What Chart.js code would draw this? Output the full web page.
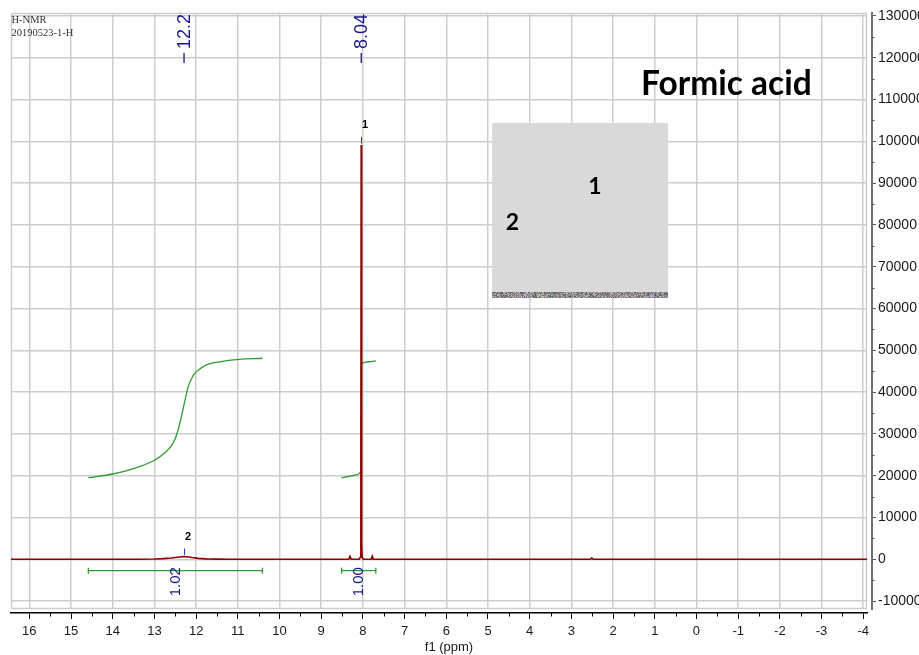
<!DOCTYPE html>
<html>
<head>
<meta charset="utf-8">
<title>H-NMR – Formic acid</title>
<script src="https://cdn.jsdelivr.net/npm/chart.js@4/dist/chart.umd.min.js"></script>
<style>
  html, body { margin: 0; padding: 0; background: #ffffff; overflow: hidden; }
  #wrap { width: 960px; height: 655px; }
</style>
</head>
<body>
<div id="wrap"><canvas id="c" width="960" height="655"></canvas></div>
<script>
// ---- spectrum (ppm, intensity) ----
const spectrumPpm = [16.44, 13.4, 13.0, 12.8, 12.6, 12.45, 12.35, 12.29, 12.22, 12.1, 11.95, 11.75, 11.5, 11.2,
  8.34, 8.31, 8.28, 8.09, 8.06, 8.048, 8.04, 8.032, 8.02, 7.99, 7.80, 7.775, 7.75, 2.54, 2.51, 2.48, -4.09];
const spectrumIntensity = [0, 0, 60, 150, 300, 480, 600, 650, 600, 420, 230, 110, 40, 0,
  0, 700, 0, 0, 500, 4000, 99100, 4000, 500, 0, 0, 700, 0, 0, 300, 0, 0];

// ---- integral curves ----
const integral1Ppm = [14.585, 14.0, 13.5, 13.0, 12.75, 12.55, 12.43, 12.31, 12.19, 12.08, 11.99, 11.75, 11.4, 11.11, 10.41];
const integral1Value = [19520, 20400, 21700, 23700, 25500, 27800, 31000, 36100, 41300, 43800, 44900, 46500, 47300, 47700, 48100];
const integral2Ppm = [8.51, 8.35, 8.2, 8.1, 8.06, 8.045, 8.04, 8.035, 8.02, 7.95, 7.8, 7.69];
const integral2Value = [19500, 19800, 20100, 20400, 20800, 22000, 33000, 46300, 46900, 47150, 47300, 47450];

// ---- integral ranges and their values ----
const integralFrom = [14.585, 8.51];
const integralTo = [10.41, 7.69];
const integralBarLevel = [-2730, -2730];
const integralLabels = ['1.02', '1.00'];

// ---- picked peaks ----
const peakPpm = [8.04, 12.29];
const peakHeight = [99100, 650];
const peakNumbers = ['1', '2'];
const peakShiftLabels = ['8.04', '12.29'];

// ---- axes ----
const xTickValues = [16, 15, 14, 13, 12, 11, 10, 9, 8, 7, 6, 5, 4, 3, 2, 1, 0, -1, -2, -3, -4];
const xTickLabels = ['16', '15', '14', '13', '12', '11', '10', '9', '8', '7', '6', '5', '4', '3', '2', '1', '0', '-1', '-2', '-3', '-4'];
const xMinorTicks = [15.5, 14.5, 13.5, 12.5, 11.5, 10.5, 9.5, 8.5, 7.5, 6.5, 5.5, 4.5, 3.5, 2.5, 1.5, 0.5, -0.5, -1.5, -2.5, -3.5];
const yTickValues = [-10000, 0, 10000, 20000, 30000, 40000, 50000, 60000, 70000, 80000, 90000, 100000, 110000, 120000, 130000];
const yTickLabels = ['-10000', '0', '10000', '20000', '30000', '40000', '50000', '60000', '70000', '80000', '90000', '100000', '110000', '120000', '130000'];
const yMinorTicks = [-5000, 5000, 15000, 25000, 35000, 45000, 55000, 65000, 75000, 85000, 95000, 105000, 115000, 125000];

const X_MIN = -4.09, X_MAX = 16.44;
const Y_MIN = -11900, Y_MAX = 130700;

const GRID = '#cdcdcd';
const RED = '#8b0000';
const GREEN = '#2f9a2f';
const NAVY = '#16168c';
const SANS = "'Liberation Sans', Arial, Helvetica, sans-serif";

Chart.defaults.font.family = SANS;

const pairs = (xs, ys) => xs.map((x, i) => ({ x, y: ys[i] }));

// small hash for the scan-line texture under the inset
function hash(x, y) {
  let h = (x * 374761393 + y * 668265263) | 0;
  h = (h ^ (h >>> 13)) * 1274126177 | 0;
  return (h ^ (h >>> 16)) >>> 0;
}
const stripPalette = [[122,106,138],[154,138,160],[106,138,106],[176,160,176],[80,80,106],[160,138,112],[138,154,160],[192,176,200],[96,96,96],[154,106,138],[120,150,120],[200,190,170]];

const decor = {
  id: 'decor',
  beforeDatasetsDraw(chart) {
    const { ctx, chartArea: a } = chart;
    ctx.save();
    ctx.strokeStyle = GRID;
    ctx.lineWidth = 1.5;
    ctx.strokeRect(a.left + 0.5, a.top + 0.5, a.right - a.left - 1, a.bottom - a.top - 1);
    ctx.restore();
  },
  afterDatasetsDraw(chart) {
    const { ctx, chartArea: a } = chart;
    const xs = chart.scales.x, ys = chart.scales.y;
    ctx.save();

    // peak markers and numbers
    peakPpm.forEach((p, i) => {
      const px = Math.round(xs.getPixelForValue(p)) + 0.5;
      const top = ys.getPixelForValue(peakHeight[i]);
      ctx.strokeStyle = '#3030c0';
      ctx.lineWidth = 1;
      ctx.beginPath();
      ctx.moveTo(px, top - 8);
      ctx.lineTo(px, top - 1.5);
      ctx.stroke();
      ctx.fillStyle = '#000';
      ctx.font = 'bold 11px ' + SANS;
      ctx.textAlign = 'center';
      ctx.textBaseline = 'middle';
      ctx.fillText(peakNumbers[i], px + 3.5, top - 20);
    });

    // integral values, written vertically under each range
    integralLabels.forEach((t, i) => {
      const cx = xs.getPixelForValue((integralFrom[i] + integralTo[i]) / 2);
      const cy = ys.getPixelForValue(integralBarLevel[i]) + 11;
      ctx.save();
      ctx.translate(cx, cy);
      ctx.rotate(-Math.PI / 2);
      ctx.fillStyle = NAVY;
      ctx.font = '15px ' + SANS;
      ctx.textAlign = 'center';
      ctx.textBaseline = 'middle';
      ctx.fillText(t, 0, 0);
      ctx.restore();
    });

    // chemical shift labels along the top edge
    ctx.save();
    ctx.beginPath();
    ctx.rect(a.left, a.top, a.right - a.left, a.bottom - a.top);
    ctx.clip();
    peakShiftLabels.forEach((t, i) => {
      const px = xs.getPixelForValue(peakPpm[i]);
      ctx.strokeStyle = NAVY;
      ctx.lineWidth = 1.3;
      ctx.beginPath();
      ctx.moveTo(px, a.top + 50);
      ctx.lineTo(px, a.top + 40);
      ctx.stroke();
      ctx.save();
      ctx.translate(px + 0.5, a.top + 36);
      ctx.rotate(-Math.PI / 2);
      ctx.fillStyle = NAVY;
      ctx.font = '18px ' + SANS;
      ctx.textAlign = 'left';
      ctx.textBaseline = 'middle';
      ctx.fillText(t, 0, 0);
      ctx.restore();
    });
    ctx.restore();

    // minor ticks on both axes
    const x2 = chart.scales.x2, y2 = chart.scales.y2;
    ctx.strokeStyle = '#000';
    ctx.lineWidth = 1;
    xMinorTicks.forEach(v => {
      const px = Math.round(xs.getPixelForValue(v)) + 0.5;
      ctx.beginPath();
      ctx.moveTo(px, x2.top);
      ctx.lineTo(px, x2.top + 3.5);
      ctx.stroke();
    });
    ctx.strokeStyle = '#555';
    yMinorTicks.forEach(v => {
      const py = Math.round(ys.getPixelForValue(v)) + 0.5;
      ctx.beginPath();
      ctx.moveTo(y2.left, py);
      ctx.lineTo(y2.left + 2.5, py);
      ctx.stroke();
    });

    // axis title
    ctx.fillStyle = '#1a1a1a';
    ctx.font = '13px ' + SANS;
    ctx.textAlign = 'center';
    ctx.textBaseline = 'middle';
    ctx.fillText('f1 (ppm)', 449, 647);

    // experiment header
    ctx.fillStyle = '#333';
    ctx.font = "10.5px 'Liberation Serif', 'DejaVu Serif', serif";
    ctx.textAlign = 'left';
    ctx.textBaseline = 'alphabetic';
    ctx.fillText('H-NMR', 11.5, 22.5);
    ctx.fillText('20190523-1-H', 11.5, 36);

    // structure inset
    const bx = 492, by = 123, bw = 176, bh = 169;
    ctx.fillStyle = '#d9d9d9';
    ctx.fillRect(bx, by, bw, bh);
    const img = ctx.createImageData(bw, 6);
    for (let yy = 0; yy < 6; yy++) {
      for (let xx = 0; xx < bw; xx++) {
        const c = stripPalette[hash(xx, yy) % stripPalette.length];
        const k = (yy * bw + xx) * 4;
        img.data[k] = c[0]; img.data[k + 1] = c[1]; img.data[k + 2] = c[2]; img.data[k + 3] = 255;
      }
    }
    ctx.putImageData(img, bx, by + bh);
    ctx.fillStyle = '#000';
    ctx.font = "bold 23px Lato, 'Open Sans', sans-serif";
    ctx.textAlign = 'center';
    ctx.textBaseline = 'middle';
    ctx.fillText('1', 595, 187);
    ctx.fillText('2', 512.5, 223);

    // compound name
    ctx.font = "bold 33.5px Lato, 'Open Sans', sans-serif";
    ctx.textAlign = 'left';
    ctx.textBaseline = 'alphabetic';
    ctx.fillText('Formic acid', 641, 95);

    ctx.restore();
  }
};

new Chart(document.getElementById('c'), {
  type: 'line',
  data: {
    datasets: [
      { data: pairs(spectrumPpm, spectrumIntensity), borderColor: RED, borderWidth: 1.7, pointRadius: 0, tension: 0 },
      { data: pairs(integral1Ppm, integral1Value), borderColor: GREEN, borderWidth: 1.3, pointRadius: 0, cubicInterpolationMode: 'monotone' },
      { data: pairs(integral2Ppm, integral2Value), borderColor: GREEN, borderWidth: 1.3, pointRadius: 0, cubicInterpolationMode: 'monotone' },
      { data: [{ x: integralFrom[0], y: integralBarLevel[0] }, { x: integralTo[0], y: integralBarLevel[0] }],
        borderColor: GREEN, borderWidth: 1.3, pointStyle: 'line', pointRotation: 90, pointRadius: 3,
        pointBorderColor: GREEN, pointBorderWidth: 1.3 },
      { data: [{ x: integralFrom[1], y: integralBarLevel[1] }, { x: integralTo[1], y: integralBarLevel[1] }],
        borderColor: GREEN, borderWidth: 1.3, pointStyle: 'line', pointRotation: 90, pointRadius: 3,
        pointBorderColor: GREEN, pointBorderWidth: 1.3 }
    ]
  },
  options: {
    responsive: false,
    animation: false,
    events: [],
    layout: { padding: { left: 11, top: 13, right: 0, bottom: 0 } },
    plugins: { legend: { display: false }, tooltip: { enabled: false } },
    scales: {
      x: {
        type: 'linear', position: 'bottom', weight: 0, reverse: true, min: X_MIN, max: X_MAX,
        afterBuildTicks: s => { s.ticks = xTickValues.map(v => ({ value: v })); },
        afterFit: s => { s.height = 4; },
        grid: { color: GRID, lineWidth: 1.5, drawTicks: false },
        border: { display: false },
        ticks: { display: false }
      },
      x2: {
        type: 'linear', position: 'bottom', weight: 1, reverse: true, min: X_MIN, max: X_MAX,
        afterBuildTicks: s => { s.ticks = xTickValues.map(v => ({ value: v })); },
        afterFit: s => { s.height = 42; },
        grid: { drawOnChartArea: false, drawTicks: true, tickLength: 6, tickColor: '#000', tickWidth: 1 },
        border: { display: true, color: '#000', width: 1.5 },
        ticks: {
          autoSkip: false, maxRotation: 0, padding: 5, color: '#1a1a1a', font: { size: 13 },
          callback: (v, i) => xTickLabels[i]
        }
      },
      y: {
        type: 'linear', position: 'right', weight: 0, min: Y_MIN, max: Y_MAX,
        afterBuildTicks: s => { s.ticks = yTickValues.map(v => ({ value: v })); },
        afterFit: s => { s.width = 5; },
        grid: { color: GRID, lineWidth: 1.5, drawTicks: false },
        border: { display: false },
        ticks: { display: false }
      },
      y2: {
        type: 'linear', position: 'right', weight: 1, min: Y_MIN, max: Y_MAX,
        afterBuildTicks: s => { s.ticks = yTickValues.map(v => ({ value: v })); },
        afterFit: s => { s.width = 88; },
        grid: { drawOnChartArea: false, drawTicks: true, tickLength: 4, tickColor: '#555', tickWidth: 1 },
        border: { display: true, color: '#707070', width: 2 },
        ticks: {
          autoSkip: false, padding: 2, color: '#1a1a1a', font: { size: 14 },
          callback: (v, i) => yTickLabels[i]
        }
      }
    }
  },
  plugins: [decor]
});
</script>
</body>
</html>
